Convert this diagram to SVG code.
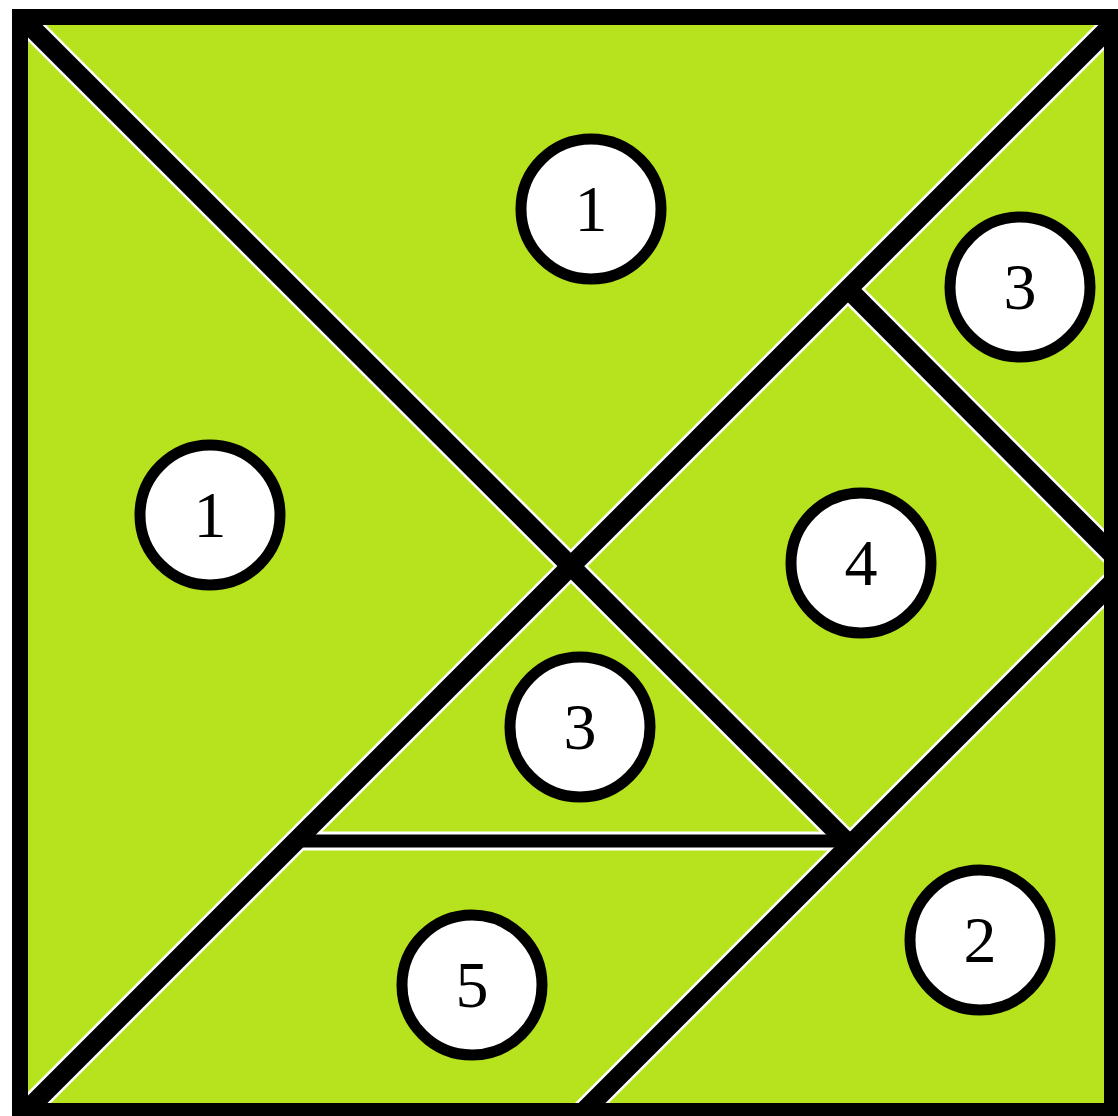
<svg xmlns="http://www.w3.org/2000/svg" width="1118" height="1116" viewBox="0 0 1118 1116">
<style>
.halo{stroke:#ffffff;stroke-width:24;fill:none}
.ln{stroke:#000000;stroke-width:19;fill:none}
.hh{stroke:#ffffff;stroke-width:19;fill:none}
.hl{stroke:#000000;stroke-width:13;fill:none}
.badge circle{fill:#ffffff;stroke:#000000;stroke-width:11}
.badge text{font-family:"Liberation Serif","Times New Roman",serif;font-size:66px;fill:#000000;text-anchor:middle}
</style>
<rect x="0" y="0" width="1118" height="1116" fill="#ffffff"/>
<rect x="20" y="17" width="1092" height="1094" fill="#b6e31e"/>
<g id="connectors">
  <line class="halo" x1="22" y1="18" x2="850" y2="845"/>
  <line class="halo" x1="1112" y1="25" x2="25" y2="1112"/>
  <line class="halo" x1="848" y1="289" x2="1112" y2="554"/>
  <line class="halo" x1="1112" y1="583" x2="583" y2="1112"/>
  <line class="hh" x1="300" y1="841" x2="850" y2="841"/>
  <line class="ln" x1="22" y1="18" x2="850" y2="845"/>
  <line class="ln" x1="1112" y1="25" x2="25" y2="1112"/>
  <line class="ln" x1="848" y1="289" x2="1112" y2="554"/>
  <line class="ln" x1="1112" y1="583" x2="583" y2="1112"/>
  <line class="hl" x1="296" y1="841" x2="854" y2="841"/>
  <rect x="20" y="17" width="1092" height="1094" fill="none" stroke="#000000" stroke-width="16"/>
</g>
<g id="piece-top" class="badge"><circle cx="591" cy="209" r="70"/><text x="591" y="231">1</text></g>
<g id="piece-left" class="badge"><circle cx="210" cy="515" r="70"/><text x="210" y="537">1</text></g>
<g id="piece-upper-right" class="badge"><circle cx="1020" cy="287" r="70"/><text x="1020" y="309">3</text></g>
<g id="piece-square" class="badge"><circle cx="861" cy="563" r="70"/><text x="861" y="585">4</text></g>
<g id="piece-middle" class="badge"><circle cx="580" cy="727" r="70"/><text x="580" y="749">3</text></g>
<g id="piece-lower-right" class="badge"><circle cx="980" cy="940" r="70"/><text x="980" y="962">2</text></g>
<g id="piece-bottom" class="badge"><circle cx="472" cy="985" r="70"/><text x="472" y="1007">5</text></g>
</svg>
